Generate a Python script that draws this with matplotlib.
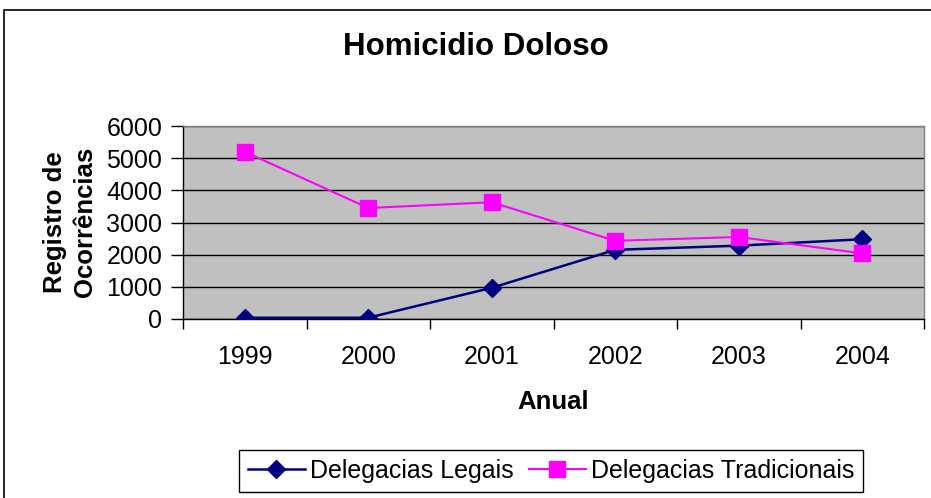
import matplotlib
matplotlib.use("Agg")
import matplotlib.pyplot as plt
from matplotlib.patches import Rectangle
from matplotlib.ticker import FixedLocator, NullFormatter

plt.rcParams['font.family'] = ['Liberation Sans', 'DejaVu Sans']

years = ["1999", "2000", "2001", "2002", "2003", "2004"]
legais = [40, 40, 970, 2150, 2280, 2480]
tradicionais = [5200, 3450, 3630, 2430, 2550, 2040]
yticks = [0, 1000, 2000, 3000, 4000, 5000, 6000]

W, H = 931, 498
fig = plt.figure(figsize=(W / 100, H / 100), dpi=100)
fig.patch.set_facecolor("white")

# chart-area frame
fig.patches.append(Rectangle((4 / W, -0.1), 1.2, 1 - 10 / H + 0.1, transform=fig.transFigure,
                             fill=False, edgecolor="black", linewidth=1.2))

left, right, top, bottom = 183, 924, 126, 319
ax = fig.add_axes([left / W, 1 - bottom / H, (right - left) / W, (bottom - top) / H])
ax.set_facecolor("#C0C0C0")

x = list(range(len(years)))
ax.plot(x, legais, color="#000080", marker="D", markersize=9, linewidth=1.8,
        label="Delegacias Legais", zorder=3)
ax.plot(x, tradicionais, color="#FF00FF", marker="s", markersize=11, linewidth=1.5,
        label="Delegacias Tradicionais", zorder=3)

ax.set_xlim(-0.5, len(years) - 0.5)
ax.set_ylim(0, 6000)
ax.set_yticks(yticks)
ax.set_yticklabels([str(v) for v in yticks])
ax.yaxis.grid(True, color="black", linewidth=1)
ax.set_axisbelow(True)

ax.xaxis.set_major_locator(FixedLocator([i - 0.5 for i in range(len(years) + 1)]))
ax.xaxis.set_major_formatter(NullFormatter())
ax.xaxis.set_minor_locator(FixedLocator(x))
ax.set_xticklabels(years, minor=True)
ax.tick_params(axis="x", which="major", length=7, width=1, direction="out")
ax.tick_params(axis="x", which="minor", length=0, pad=19, labelsize=18)
ax.tick_params(axis="y", length=9, width=1, direction="out", pad=6, labelsize=18)

for s in ["left", "bottom"]:
    ax.spines[s].set_color("black")
    ax.spines[s].set_linewidth(1)
for s in ["top", "right"]:
    ax.spines[s].set_color("#808080")
    ax.spines[s].set_linewidth(1)

fig.text(476 / W, 1 - 47 / H, "Homicidio Doloso", ha="center", va="center",
         fontsize=22.5, fontweight="bold")
fig.text(553 / W, 1 - 402 / H, "Anual", ha="center", va="center",
         fontsize=18.5, fontweight="bold")
fig.text(70 / W, 1 - 222 / H, "Registro de\nOcorrências", ha="center", va="center",
         rotation=90, fontsize=18.5, fontweight="bold", linespacing=1.3)

leg = fig.legend(loc="center", bbox_to_anchor=(551 / W, 1 - 471 / H), ncol=2,
                 fontsize=18, frameon=True, fancybox=False, framealpha=1,
                 edgecolor="black", handlelength=2.3, columnspacing=0.6,
                 handletextpad=0.2, borderpad=0.35)
leg.get_frame().set_linewidth(1)

fig.savefig("out.png", dpi=100)
